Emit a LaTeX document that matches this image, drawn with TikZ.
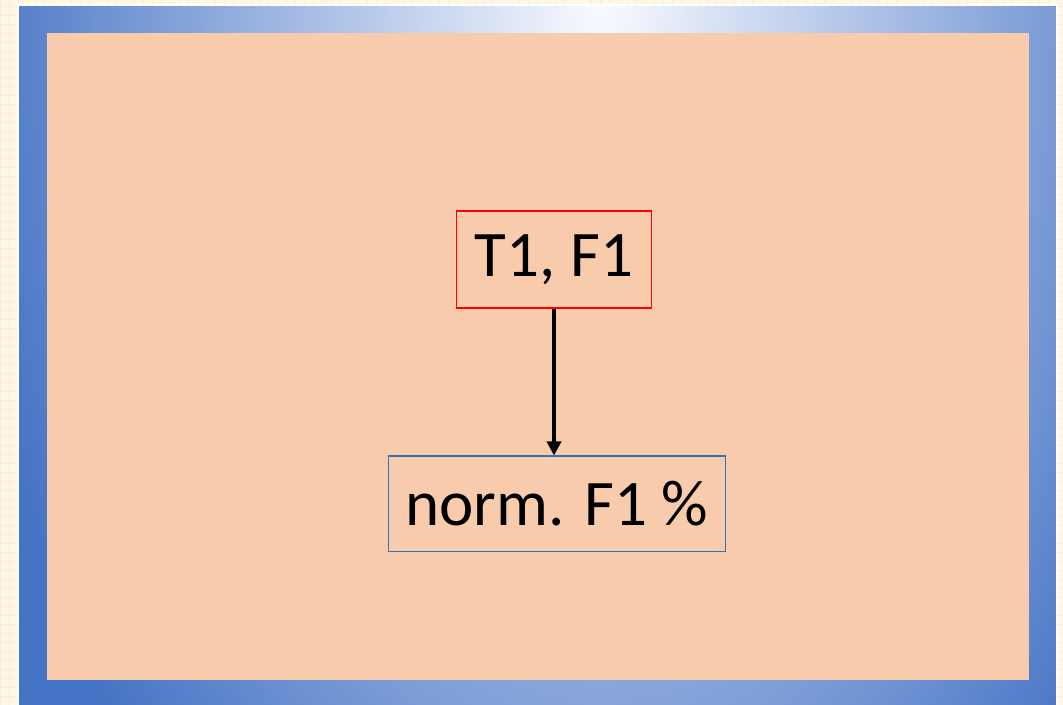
\documentclass[tikz,border=0pt]{standalone}
\usepackage{fontspec}
\setmainfont{Carlito}
\usepackage{xcolor}
\usepackage{tikz}
\usetikzlibrary{arrows.meta,positioning}
\definecolor{cream}{HTML}{FFF8E6}
\definecolor{gridline}{HTML}{FBEED0}
\definecolor{framedark}{HTML}{4472C4}
\definecolor{framelight}{HTML}{F8FAFF}
\definecolor{salmon}{HTML}{F8CBAD}
\definecolor{boxred}{HTML}{FF0000}
\definecolor{boxblue}{HTML}{2E75B6}
\pgfdeclareradialshading{frameglow}{\pgfpoint{0bp}{0bp}}{%
    color(0bp)=(framelight); color(12.5bp)=(framedark); color(50bp)=(framedark)}

\begin{document}
\begin{tikzpicture}[x=0.02cm, y=0.02cm,
    box/.style={draw, rectangle, line width=0.8pt, inner sep=0pt,
                font=\fontsize{37}{40}\selectfont}]
    % Background
    \useasboundingbox (0,0) rectangle (1063,705);
    \fill[cream] (0,0) rectangle (1063,705);
    \draw[gridline, line width=0.4pt, step=5.1pt] (0,0) grid (1063,705);

    % Frame
    \begin{scope}
        \clip (18,0) rectangle (1057,700);
        \shade[shading=frameglow] (600,700) ellipse (1300 and 2200);
    \end{scope}
    \draw[white, line width=1pt] (18,0) -- (18,700) -- (1057,700) -- (1057,0);

    % Panel
    \fill[salmon] (47,25) rectangle (1029,672);

    % Boxes
    \node[box, draw=boxred, minimum width=111pt, minimum height=55pt] (src) at (554,445.5) {T1, F1};
    \node[box, draw=boxblue, minimum width=191.6pt, minimum height=54.4pt] (norm) at (557,201) {norm. F1 \%};

    % Arrow
    \draw[-{Triangle[length=8pt,width=8pt]}, line width=2pt] (src.south) -- (norm.north -| src.south);
\end{tikzpicture}
\end{document}
